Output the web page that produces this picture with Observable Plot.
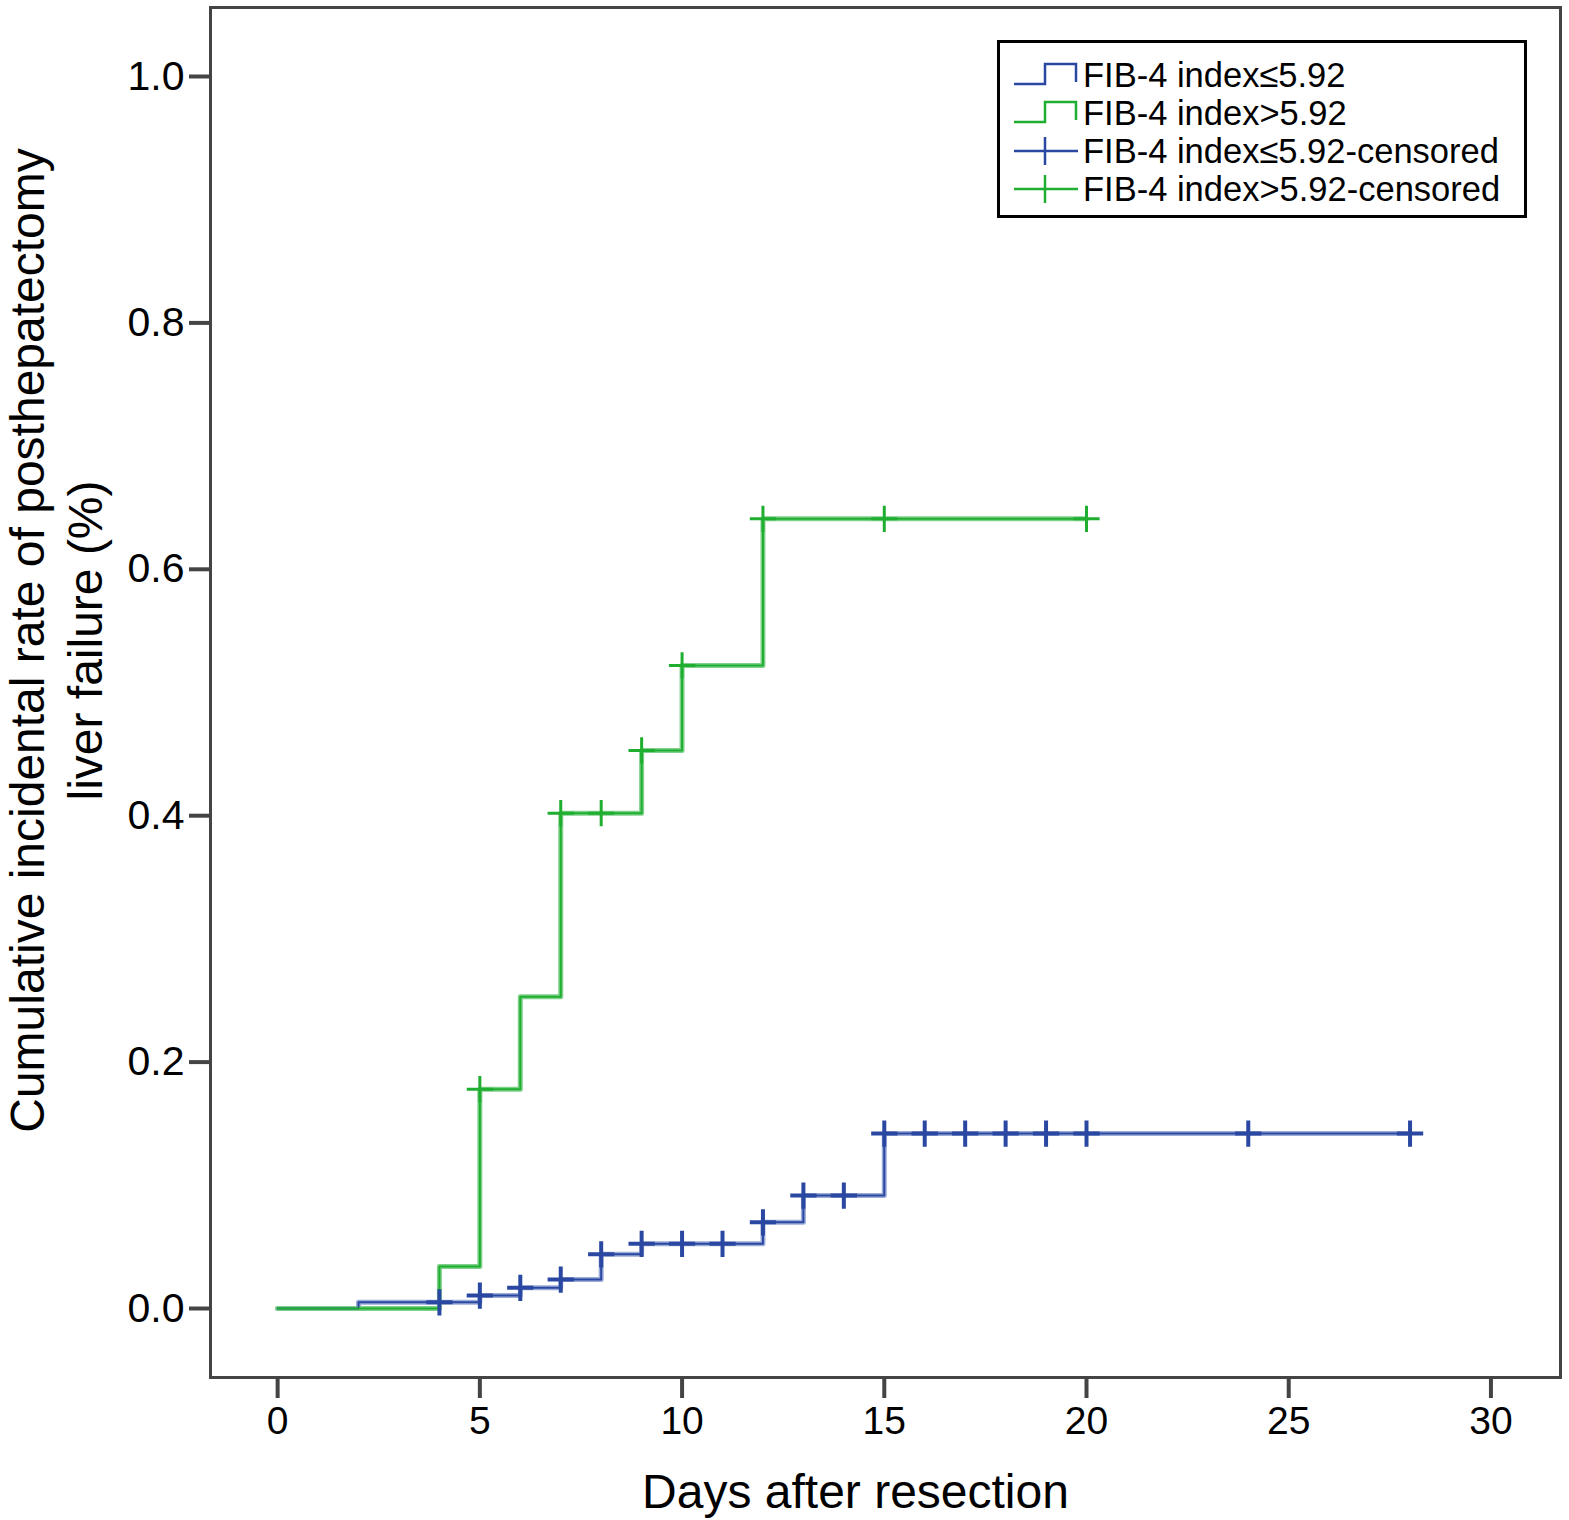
<!DOCTYPE html>
<html>
<head>
<meta charset="utf-8">
<script src="https://cdn.jsdelivr.net/npm/d3@7"></script>
<script src="https://cdn.jsdelivr.net/npm/@observablehq/plot@0.6"></script>
<style>
  body { margin: 0; background: white; font-family: "Liberation Sans", Arial, Helvetica, sans-serif; }
  #wrap { position: relative; width: 1569px; height: 1520px; }
  #legend {
    position: absolute; left: 997px; top: 40px; width: 524px; height: 172px;
    border: 3px solid black; background: white;
  }
  .row { position: absolute; left: 12px; height: 38px; display: flex; align-items: center; font-size: 34.5px; color: black; white-space: nowrap; }
  .row svg { margin-right: 3px; }
</style>
</head>
<body>
<div id="wrap">
  <div id="myplot"></div>
  <div id="legend"></div>
</div>
<script>
// step curves (day of event, cumulative rate after that day)
const lowDays   = [0, 2, 5, 6, 7, 8, 9, 12, 13, 15, 28];
const lowRates  = [0, 0.005, 0.0105, 0.0168, 0.0235, 0.044, 0.0525, 0.070, 0.0917, 0.142, 0.142];
const highDays  = [0, 4, 5, 6, 7, 9, 10, 12, 20];
const highRates = [0, 0.034, 0.178, 0.253, 0.402, 0.453, 0.522, 0.641, 0.641];

// censored observations
const lowCensored  = [4, 5, 6, 7, 8, 9, 10, 11, 12, 13, 14, 15, 16, 17, 18, 19, 20, 24, 28];
const highCensored = [5, 7, 8, 9, 10, 12, 15, 20];

const xTicks = [0, 5, 10, 15, 20, 25, 30];
const yTicks = [0, 0.2, 0.4, 0.6, 0.8, 1.0];

const groups = ["FIB-4 index\u22645.92", "FIB-4 index>5.92"];
const dark  = ["#2a48a2", "#1fae30"];
const light = ["#9cacd8", "#7fd08a"];

const toRows = (days, rates) => days.map((d, i) => ({day: d, rate: rates[i]}));
const lowLine = toRows(lowDays, lowRates);
const highLine = toRows(highDays, highRates);

// rate of the step curve at a given day
const rateAt = (days, rates, t) => rates[Math.max(0, d3.bisectRight(days, t) - 1)];
const lowMarks = lowCensored.map(t => ({day: t, rate: rateAt(lowDays, lowRates, t)}));
const highMarks = highCensored.map(t => ({day: t, rate: rateAt(highDays, highRates, t)}));

const font = "Liberation Sans, Arial, Helvetica, sans-serif";

const plot = Plot.plot({
  width: 1569,
  height: 1520,
  marginLeft: 210,
  marginRight: 9,
  marginTop: 7,
  marginBottom: 143,
  style: {fontFamily: font, background: "white"},
  x: {domain: [-1.66, 31.72], label: null},
  y: {domain: [-0.056, 1.056], label: null},
  marks: [
    Plot.frame({stroke: "#444", strokeWidth: 3}),
    Plot.axisX({ticks: xTicks, tickSize: 21, tickPadding: 8, fontSize: 39, stroke: "#444", strokeWidth: 4, fill: "black", tickFormat: d => d.toString()}),
    Plot.axisY({ticks: yTicks, tickSize: 21, tickPadding: 5, fontSize: 41, stroke: "#444", strokeWidth: 4, fill: "black", tickFormat: d3.format(".1f")}),
    Plot.line(lowLine, {x: "day", y: "rate", curve: "step-after", stroke: light[0], strokeWidth: 5}),
    Plot.line(highLine, {x: "day", y: "rate", curve: "step-after", stroke: light[1], strokeWidth: 5}),
    Plot.line(lowLine, {x: "day", y: "rate", curve: "step-after", stroke: dark[0], strokeWidth: 2}),
    Plot.line(highLine, {x: "day", y: "rate", curve: "step-after", stroke: dark[1], strokeWidth: 2}),
    Plot.dot(lowMarks, {x: "day", y: "rate", symbol: "plus", r: 8.5, stroke: dark[0], strokeWidth: 4}),
    Plot.dot(highMarks, {x: "day", y: "rate", symbol: "plus", r: 8.5, stroke: dark[1], strokeWidth: 3}),
    Plot.text(["Cumulative incidental rate of posthepatectomy\nliver failure (%)"], {
      frameAnchor: "left", rotate: -90, dx: -156, dy: -52, fontSize: 48, lineHeight: 1.2,
      textAnchor: "middle", lineAnchor: "middle", fill: "black"
    }),
    Plot.text(["Days after resection"], {
      frameAnchor: "bottom", dx: -30, dy: 115, fontSize: 48, lineAnchor: "middle", fill: "black"
    })
  ]
});
document.querySelector("#myplot").append(plot);

// legend
const legend = document.querySelector("#legend");
const stepIcon = c => `<svg width="68" height="30"><path d="M2,24H33V4H64V22" fill="none" stroke="${c}" stroke-width="2.5"/></svg>`;
const plusIcon = c => `<svg width="68" height="30"><path d="M2,15H66M33,1V29" fill="none" stroke="${c}" stroke-width="2.5"/></svg>`;
const entries = [
  {icon: stepIcon(dark[0]), text: groups[0]},
  {icon: stepIcon(dark[1]), text: groups[1]},
  {icon: plusIcon(dark[0]), text: groups[0] + "-censored"},
  {icon: plusIcon(dark[1]), text: groups[1] + "-censored"}
];
entries.forEach((e, i) => {
  const row = document.createElement("div");
  row.className = "row";
  row.style.top = (13 + i * 38) + "px";
  row.innerHTML = e.icon + "<span>" + e.text + "</span>";
  legend.append(row);
});
</script>
</body>
</html>
